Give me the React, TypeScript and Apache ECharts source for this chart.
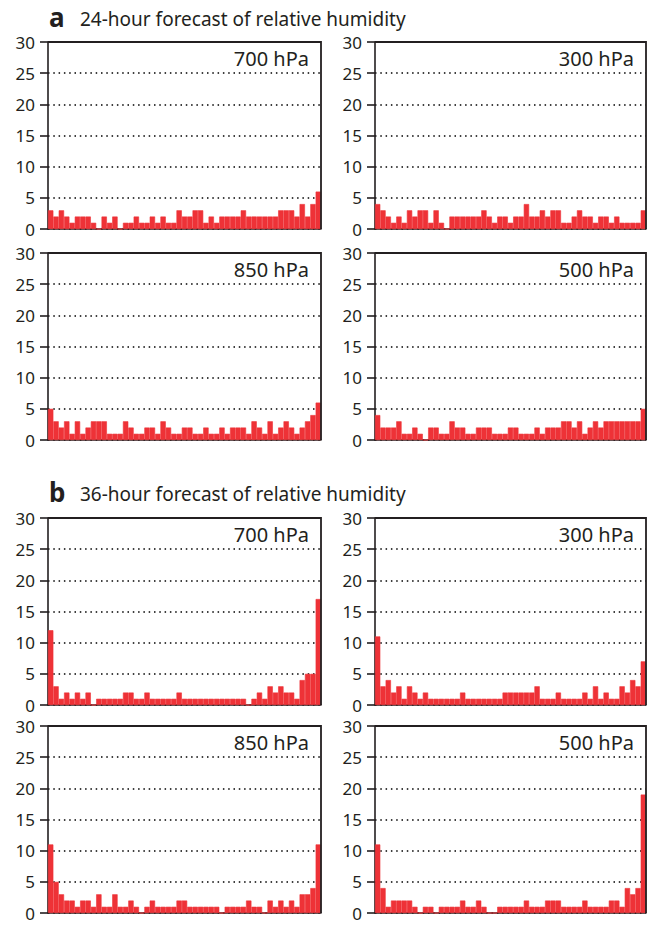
import React, { useEffect, useRef } from "react";
import * as echarts from "echarts";

// Rank bins (51 bins for each histogram)
const bins: string[] = [
  "1","2","3","4","5","6","7","8","9","10","11","12","13","14","15","16","17",
  "18","19","20","21","22","23","24","25","26","27","28","29","30","31","32","33",
  "34","35","36","37","38","39","40","41","42","43","44","45","46","47","48","49","50","51",
];

const yTicks = [0, 5, 10, 15, 20, 25, 30];

// a: 24-hour forecast
const a700 = [3,2,3,2,1,2,2,2,1,0,2,1,2,0,1,1,2,1,1,2,1,2,1,1,3,2,2,3,3,1,2,1,2,2,2,2,3,2,2,2,2,2,2,3,3,3,2,4,2,4,6];
const a300 = [4,3,2,1,2,1,3,2,3,3,1,3,1,0,2,2,2,2,2,2,3,2,1,2,2,1,2,2,4,2,2,3,2,3,3,1,1,2,3,2,2,1,2,2,1,2,1,1,1,1,3];
const a850 = [5,3,2,3,1,3,1,2,3,3,3,1,1,1,3,2,1,1,2,2,1,3,2,1,1,2,2,1,1,2,1,1,2,1,2,2,2,1,3,2,1,3,1,2,3,2,1,2,3,4,6];
const a500 = [4,2,2,2,3,1,1,2,1,0,2,2,1,1,3,2,2,1,1,2,2,2,1,1,1,2,2,1,1,1,2,1,2,2,2,3,3,2,3,1,2,3,2,3,3,3,3,3,3,3,5];

// b: 36-hour forecast
const b700 = [12,3,1,2,1,2,1,2,0,1,1,1,1,1,2,2,1,1,2,1,1,1,1,1,2,1,1,1,1,1,1,1,1,1,1,1,1,0,1,2,1,3,2,3,2,2,1,4,5,5,17];
const b300 = [11,3,4,2,3,1,3,2,1,2,1,1,1,1,1,1,2,1,1,1,1,1,1,1,2,2,2,2,2,2,3,1,1,1,2,1,1,1,1,2,1,3,1,2,1,1,3,2,4,3,7];
const b850 = [11,5,3,2,2,1,2,2,1,3,1,1,3,1,1,2,1,0,1,2,1,1,1,1,2,2,1,1,1,1,1,1,0,1,1,1,1,2,1,1,0,2,1,2,1,2,1,3,3,4,11];
const b500 = [11,4,1,2,2,2,2,1,0,1,1,0,1,1,1,1,2,1,1,2,1,0,0,1,1,1,1,1,2,1,1,1,2,2,2,1,1,1,1,2,1,1,1,1,2,2,1,4,3,4,19];

const panelLabels = ["700 hPa", "300 hPa", "850 hPa", "500 hPa", "700 hPa", "300 hPa", "850 hPa", "500 hPa"];
const panelData = [a700, a300, a850, a500, b700, b300, b850, b500];
const sectionLetters = ["a", "b"];
const sectionTitles = ["24-hour forecast of relative humidity", "36-hour forecast of relative humidity"];

const INK = "#231f20";
const RED = "#ee3237";
const FONT = '"Noto Sans", "DejaVu Sans", sans-serif';

export default function App() {
  const ref = useRef<HTMLDivElement>(null);

  useEffect(() => {
    if (!ref.current) return;
    const chart = echarts.init(ref.current, null, { renderer: "svg" });

    const lefts = [48, 375, 48, 375, 48, 375, 48, 375];
    const widths = [273, 271, 273, 271, 273, 271, 273, 271];
    const tops = [42, 42, 253, 253, 518, 518, 726, 726];
    const H = 187;

    const grid = panelData.map((_, i) => ({
      left: lefts[i],
      top: tops[i],
      width: widths[i],
      height: H,
      show: false,
      containLabel: false,
    }));

    const xAxis = panelData.map((_, i) => ({
      type: "category",
      gridIndex: i,
      data: bins,
      boundaryGap: true,
      axisLine: { show: true, lineStyle: { color: INK, width: 1.6 } },
      axisTick: { show: false },
      axisLabel: { show: false },
      splitLine: { show: false },
    }));

    const yAxis = panelData.map((_, i) => ({
      type: "value",
      gridIndex: i,
      min: yTicks[0],
      max: yTicks[yTicks.length - 1],
      interval: 5,
      axisLine: { show: true, lineStyle: { color: INK, width: 1.6 } },
      axisTick: { show: true, inside: false, length: 8, lineStyle: { color: INK, width: 1.6 } },
      axisLabel: {
        show: true,
        margin: 13,
        color: INK,
        fontSize: 17,
        lineHeight: 16,
        fontFamily: FONT,
      },
      splitLine: {
        show: true,
        lineStyle: { color: "#000", width: 1.5, type: [1.5, 3.8] },
      },
    }));

    const series = panelData.map((d, i) => ({
      type: "bar",
      xAxisIndex: i,
      yAxisIndex: i,
      data: d,
      barCategoryGap: "0%",
      itemStyle: { color: RED, borderColor: RED, borderWidth: 0.6 },
      silent: true,
    }));

    const graphic: any[] = [];
    // panel frames (top and right edges)
    panelData.forEach((_, i) => {
      graphic.push({
        type: "polyline",
        z: 100,
        silent: true,
        shape: {
          points: [
            [lefts[i], tops[i]],
            [lefts[i] + widths[i], tops[i]],
            [lefts[i] + widths[i], tops[i] + H],
          ],
        },
        style: { stroke: INK, lineWidth: 1.8, fill: null },
      });
    });
    sectionLetters.forEach((s, k) => {
      const y = k === 0 ? 17 : 492;
      graphic.push({
        type: "text",
        x: 49,
        y,
        style: {
          text: s,
          font: `bold 26px ${FONT}`,
          fill: INK,
          verticalAlign: "middle",
          align: "left",
        },
      });
      graphic.push({
        type: "text",
        x: 80,
        y: y + 2,
        style: {
          text: sectionTitles[k],
          font: `19px ${FONT}`,
          fill: INK,
          verticalAlign: "middle",
          align: "left",
        },
      });
    });
    panelLabels.forEach((lab, i) => {
      graphic.push({
        type: "text",
        x: lefts[i] + widths[i] - 12,
        y: tops[i] + 16,
        style: {
          text: lab,
          font: `20px ${FONT}`,
          fill: INK,
          verticalAlign: "middle",
          align: "right",
        },
      });
    });

    chart.setOption({
      animation: false,
      backgroundColor: "#ffffff",
      textStyle: { fontFamily: FONT },
      grid,
      xAxis,
      yAxis,
      series,
      graphic,
    });

    return () => chart.dispose();
  }, []);

  return (
    <div
      ref={ref}
      style={{ position: "absolute", left: 0, top: 0, width: 653, height: 925 }}
    />
  );
}
